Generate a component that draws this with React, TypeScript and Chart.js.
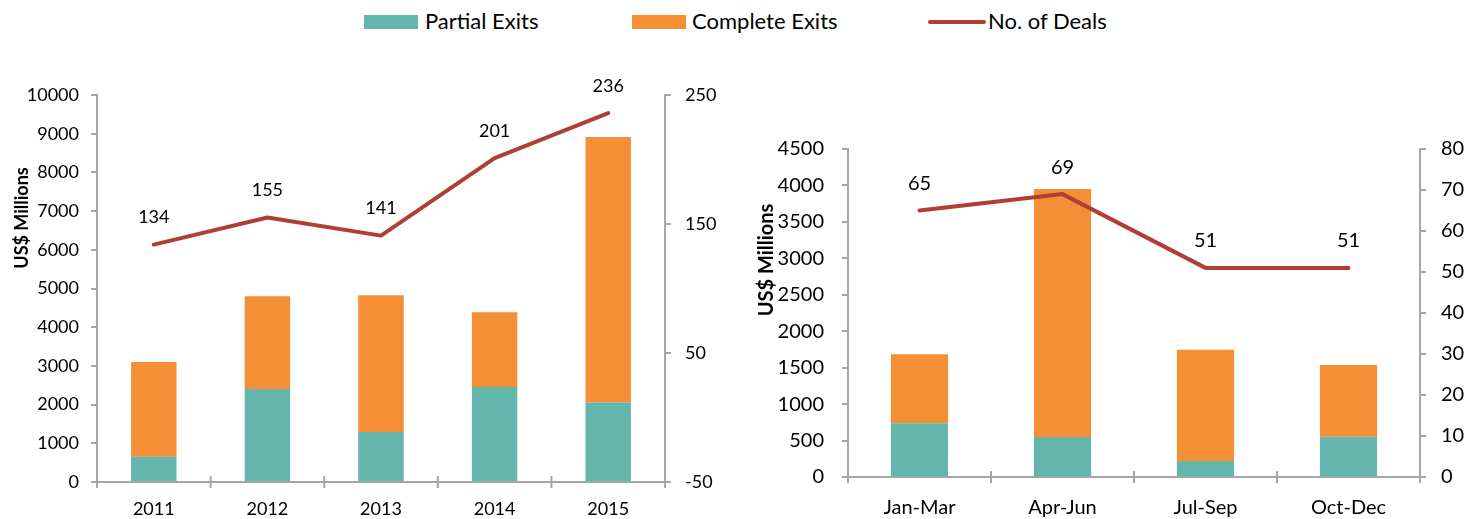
import React, { useEffect, useRef } from "react";
import { Chart, registerables } from "chart.js";

Chart.register(...registerables);

const years = ["2011", "2012", "2013", "2014", "2015"];
const yearPartial = [654, 2401, 1291, 2453, 2057];
const yearComplete = [2444, 2401, 3537, 1936, 6859];
const yearDeals = [134, 155, 141, 201, 236];

const quarters = ["Jan-Mar", "Apr-Jun", "Jul-Sep", "Oct-Dec"];
const qPartial = [736, 549, 220, 553];
const qComplete = [947, 3402, 1527, 984];
const qDeals = [65, 69, 51, 51];

const TEAL = "#64B5AE";
const ORANGE = "#F48F35";
const RED = "#B03E35";
const AXIS = "#A6A6A6";
const FONT = "Lato, 'Open Sans', sans-serif";

const labelPlugin = {
  id: "dealLabels",
  afterDatasetsDraw(chart: any) {
    const ctx = chart.ctx;
    const fs = chart.options.plugins.extras.fontSize;
    chart.data.datasets.forEach((ds: any, i: number) => {
      if (ds.type !== "line") return;
      const meta = chart.getDatasetMeta(i);
      ctx.save();
      ctx.font = `${fs}px ${FONT}`;
      ctx.fillStyle = "#000";
      ctx.textAlign = "center";
      ctx.textBaseline = "middle";
      meta.data.forEach((pt: any, j: number) => {
        ctx.fillText(String(ds.data[j]), pt.x, pt.y - 27);
      });
      ctx.restore();
    });
  },
};

const extrasPlugin = {
  id: "extras",
  afterDraw(chart: any) {
    const opts = chart.options.plugins.extras;
    const ctx = chart.ctx;
    const xs = chart.scales.x;
    const y0 = chart.chartArea.bottom;
    ctx.save();
    ctx.strokeStyle = AXIS;
    ctx.lineWidth = 2;
    const n = chart.data.labels.length;
    const step = xs.getPixelForValue(1) - xs.getPixelForValue(0);
    for (let i = 0; i <= n; i++) {
      const x = xs.getPixelForValue(0) + (i - 0.5) * step;
      ctx.beginPath();
      ctx.moveTo(x, y0 - 6);
      ctx.lineTo(x, y0 + 6);
      ctx.stroke();
    }
    ctx.translate(opts.titleX, opts.titleY);
    ctx.rotate(-Math.PI / 2);
    ctx.font = `bold ${opts.fontSize}px ${FONT}`;
    ctx.fillStyle = "#000";
    ctx.textAlign = "center";
    ctx.textBaseline = "middle";
    ctx.fillText("US$ Millions", 0, 0);
    ctx.restore();
  },
};

type Cfg = {
  labels: string[];
  partial: number[];
  complete: number[];
  deals: number[];
  yMax: number;
  yStep: number;
  y2Min: number;
  y2Max: number;
  y2Step: number;
  leftW: number;
  rightW: number;
  top: number;
  bottomH: number;
  xPad: number;
  yPad: number;
  y2Pad: number;
  titleX: number;
  titleY: number;
  fontSize: number;
};

function ComboChart({ cfg, style }: { cfg: Cfg; style: React.CSSProperties }) {
  const ref = useRef<HTMLCanvasElement>(null);
  useEffect(() => {
    if (!ref.current) return;
    const tickFont = { family: FONT, size: cfg.fontSize };
    const chart = new Chart(ref.current, {
      type: "bar",
      data: {
        labels: cfg.labels,
        datasets: [
          {
            type: "line",
            label: "No. of Deals",
            data: cfg.deals,
            yAxisID: "y2",
            borderColor: RED,
            backgroundColor: RED,
            borderWidth: 4,
            pointRadius: 0,
            tension: 0,
            borderCapStyle: "round",
            borderJoinStyle: "round",
            order: 0,
          } as any,
          {
            type: "bar",
            label: "Partial Exits",
            data: cfg.partial,
            backgroundColor: TEAL,
            stack: "s",
            yAxisID: "y",
            barPercentage: 0.8,
            categoryPercentage: 0.5,
            order: 1,
          },
          {
            type: "bar",
            label: "Complete Exits",
            data: cfg.complete,
            backgroundColor: ORANGE,
            stack: "s",
            yAxisID: "y",
            barPercentage: 0.8,
            categoryPercentage: 0.5,
            order: 1,
          },
        ],
      },
      options: {
        animation: false,
        responsive: false,
        maintainAspectRatio: false,
        layout: { padding: { top: cfg.top, left: 0, right: 0, bottom: 0 } },
        plugins: {
          legend: { display: false },
          tooltip: { enabled: false },
          extras: { titleX: cfg.titleX, titleY: cfg.titleY, fontSize: cfg.fontSize },
        },
        scales: {
          x: {
            stacked: true,
            offset: true,
            grid: { offset: true, drawOnChartArea: false, drawTicks: false, color: AXIS },
            border: { color: AXIS, width: 2 },
            ticks: { font: tickFont, color: "#000", padding: cfg.xPad, maxRotation: 0 },
            afterFit(scale: any) {
              scale.height = cfg.bottomH;
            },
          },
          y: {
            stacked: true,
            position: "left",
            min: 0,
            max: cfg.yMax,
            ticks: {
              stepSize: cfg.yStep,
              font: tickFont,
              color: "#000",
              padding: cfg.yPad,
              callback: (v: any) => String(v),
            },
            grid: { drawOnChartArea: false, tickLength: 6, color: AXIS, lineWidth: 2 },
            border: { color: AXIS, width: 2 },
            afterFit(scale: any) {
              scale.width = cfg.leftW;
            },
          },
          y2: {
            position: "right",
            min: cfg.y2Min,
            max: cfg.y2Max,
            ticks: {
              stepSize: cfg.y2Step,
              font: tickFont,
              color: "#000",
              padding: cfg.y2Pad,
              callback: (v: any) => String(v),
            },
            grid: { drawOnChartArea: false, tickLength: 6, color: AXIS, lineWidth: 2 },
            border: { color: AXIS, width: 2 },
            afterFit(scale: any) {
              scale.width = cfg.rightW;
            },
          },
        },
      } as any,
      plugins: [labelPlugin, extrasPlugin],
    });
    return () => chart.destroy();
  }, []);
  return <canvas ref={ref} width={style.width as number} height={style.height as number} style={style} />;
}

const legendText: React.CSSProperties = {
  position: "absolute",
  fontFamily: FONT,
  fontSize: 22,
  color: "#000",
  top: 8,
  lineHeight: "26px",
  whiteSpace: "nowrap",
};

export default function App() {
  const leftCfg: Cfg = {
    labels: years,
    partial: yearPartial,
    complete: yearComplete,
    deals: yearDeals,
    yMax: 10000,
    yStep: 1000,
    y2Min: -50,
    y2Max: 250,
    y2Step: 100,
    leftW: 97,
    rightW: 55,
    top: 95,
    bottomH: 37,
    xPad: 16,
    yPad: 12,
    y2Pad: 14,
    titleX: 22,
    titleY: 218,
    fontSize: 18,
  };
  const rightCfg: Cfg = {
    labels: quarters,
    partial: qPartial,
    complete: qComplete,
    deals: qDeals,
    yMax: 4500,
    yStep: 500,
    y2Min: 0,
    y2Max: 80,
    y2Step: 10,
    leftW: 108,
    rightW: 59,
    top: 149,
    bottomH: 42,
    xPad: 19,
    yPad: 18,
    y2Pad: 15,
    titleX: 27,
    titleY: 260,
    fontSize: 20,
  };
  return (
    <div style={{ position: "absolute", left: 0, top: 0, width: 1479, height: 519, background: "#fff", overflow: "hidden" }}>
      <div style={{ position: "absolute", left: 364, top: 15, width: 54, height: 14, background: TEAL }} />
      <div style={{ ...legendText, left: 425 }}>Partial Exits</div>
      <div style={{ position: "absolute", left: 632, top: 15, width: 54, height: 14, background: ORANGE }} />
      <div style={{ ...legendText, left: 692 }}>Complete Exits</div>
      <div style={{ position: "absolute", left: 928, top: 20, width: 58, height: 4, borderRadius: 2, background: RED }} />
      <div style={{ ...legendText, left: 988 }}>No. of Deals</div>
      <ComboChart cfg={leftCfg} style={{ position: "absolute", left: 0, top: 0, width: 720, height: 519 }} />
      <ComboChart cfg={rightCfg} style={{ position: "absolute", left: 740, top: 0, width: 739, height: 519 }} />
    </div>
  );
}
